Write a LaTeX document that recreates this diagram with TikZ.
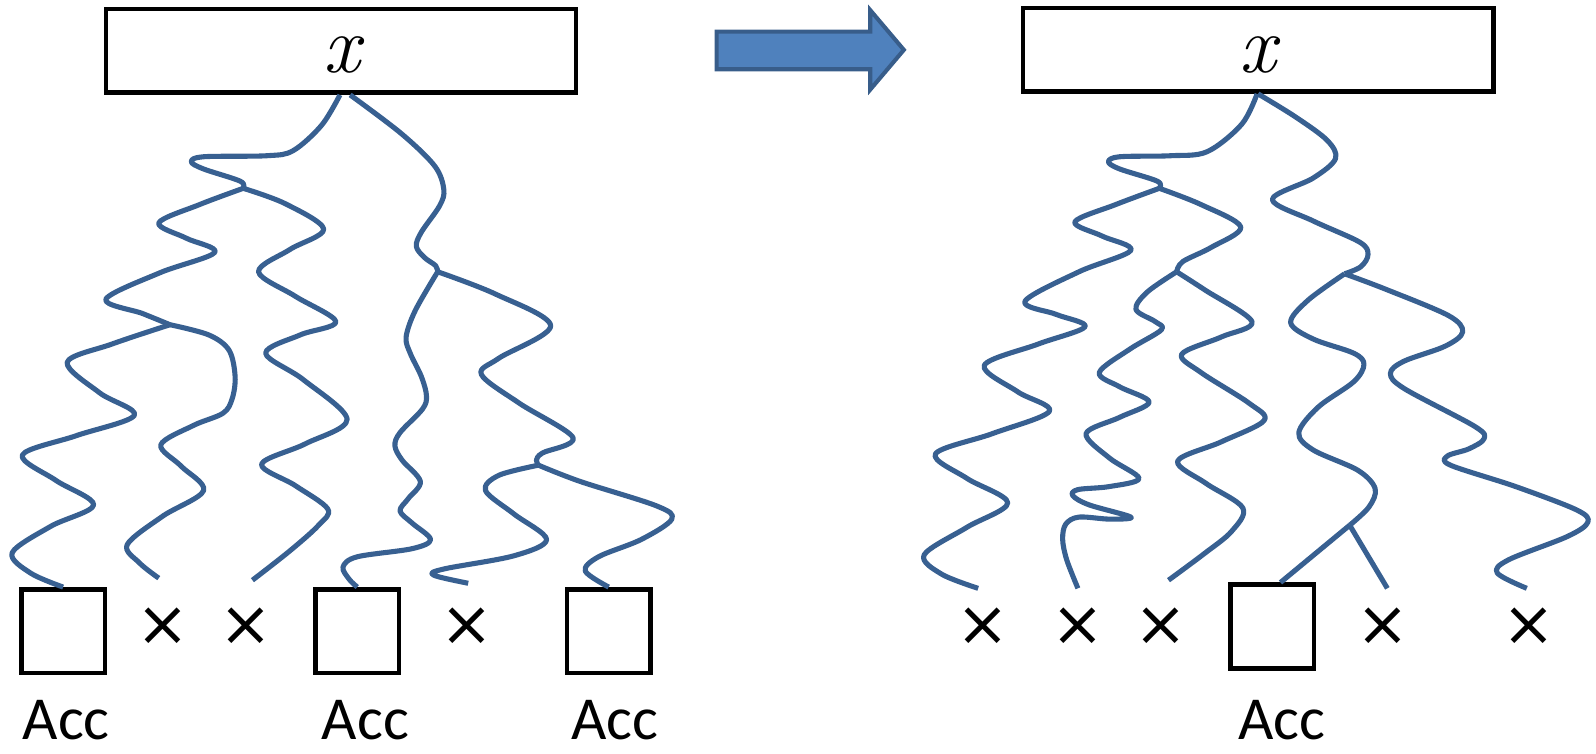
\documentclass[tikz,border=0pt]{standalone}
\usepackage{fontspec}
\setsansfont{Carlito}
\newfontfamily\symfont{DejaVu Sans}
\definecolor{wireblue}{RGB}{56,96,145}
\definecolor{arrowfill}{RGB}{79,129,189}
\definecolor{arrowedge}{RGB}{56,93,138}
\tikzset{
  wire/.style={draw=wireblue, line width=5pt, line join=round},
  inbox/.style={draw=black, line width=4.5pt, minimum width=462pt, minimum height=82pt, inner sep=0pt},
  varlabel/.style={inner sep=0pt, font=\fontsize{80}{90}\selectfont\itshape},
  accbox/.style={draw=black, line width=4.5pt, minimum width=82pt, minimum height=82pt, inner sep=0pt},
  acclabel/.style={anchor=base, inner sep=0pt, font=\sffamily\fontsize{60}{72}\selectfont},
  reject/.style={inner sep=0pt, font=\symfont\fontsize{62}{70}\selectfont},
  wave/.style={smooth, tension=0.55},
}
\begin{document}
\begin{tikzpicture}[x=1pt, y=-1pt]
\useasboundingbox (0,0) rectangle (1568,740);

% ---------- left tree ----------
\node[inbox] (xL) at (335,50) {};
\node[varlabel] (vL) at (336,54) {x};
\node[accbox] (a1) at (62,620) {};
\node[accbox] (a2) at (351,620) {};
\node[accbox] (a3) at (598,620) {};
\node[acclabel] (t1) at (65,727) {Acc};
\node[acclabel] (t2) at (359,727) {Acc};
\node[acclabel] (t3) at (604,727) {Acc};
\node[reject] (r1) at (160,616) {×};
\node[reject] (r2) at (242,616) {×};
\node[reject] (r3) at (459,616) {×};

\coordinate (lb1) at (239,185);
\coordinate (lb2) at (167,319);
\coordinate (lb3) at (430,267);
\coordinate (lb4) at (529,457);
\coordinate (le1) at (156,568);
\coordinate (le2) at (248,570);
\coordinate (le3) at (460,573);

\draw[wire] plot[wave] coordinates {([xshift=-1pt]xL.south) (316,123) (288,148) (262,153) (200,154) (188,159) (200,166) (236,178) (lb1)};
\draw[wire] plot[wave] coordinates {(lb1) (196,201) (156,219) (183,234) (211,248) (157,268) (104,294) (140,308) (lb2)};
\draw[wire] plot[wave] coordinates {(lb2) (110,338) (66,356) (98,386) (132,408) (75,428) (22,447) (55,472) (92,496) (50,517) (12,543) (30,563) (a1.north)};
\draw[wire] plot[wave] coordinates {(lb2) (205,329) (225,344) (231,370) (228,392) (219,406) (190,418) (158,437) (178,458) (200,482) (160,507) (125,535) (137,553) (le1)};
\draw[wire] plot[wave] coordinates {(lb1) (280,200) (318,225) (285,245) (254,267) (290,291) (330,316) (295,329) (261,347) (298,373) (341,412) (300,436) (257,456) (290,477) (322,500) (313,516) (285,541) (le2)};
\draw[wire] plot[wave] coordinates {([xshift=9pt]xL.south) (394,131) (427,163) (436,186) (432,202) (414,228) (409,242) (417,253) (428,261) (lb3)};
\draw[wire] plot[wave] coordinates {(lb3) (408,305) (399,331) (403,347) (414,370) (419,389) (415,402) (393,425) (388,438) (395,452) (413,473) (401,490) (393,502) (405,514) (423,530) (405,539) (351,547) (337,557) (343,569) (a2.north)};
\draw[wire] plot[wave] coordinates {(lb3) (487,289) (541,320) (490,352) (473,368) (510,396) (563,430) (533,445) (527,452) (lb4)};
\draw[wire] plot[wave] coordinates {(lb4) (490,467) (477,482) (505,505) (537,530) (505,546) (436,559) (426,565) (le3)};
\draw[wire] plot[wave] coordinates {(lb4) (570,473) (645,497) (660,510) (630,530) (588,547) (575,561) (a3.north)};

% ---------- transition arrow ----------
\draw[fill=arrowfill, draw=arrowedge, line width=4pt, line join=miter]
  (704,31) -- (855,31) -- (855,10) -- (888,49) -- (855,88) -- (855,68) -- (704,68) -- cycle;

% ---------- right tree ----------
\node[inbox] (xR) at (1236,49) {};
\node[varlabel] (vR) at (1236,54) {x};
\node[accbox] (a4) at (1250,615.5) {};
\node[acclabel] (t4) at (1259,727) {Acc};
\node[reject] (r4) at (966,616) {×};
\node[reject] (r5) at (1059,616) {×};
\node[reject] (r6) at (1141,616) {×};
\node[reject] (r7) at (1359,616) {×};
\node[reject] (r8) at (1502,616) {×};

\coordinate (rb1) at (1139,185);
\coordinate (rb2) at (1156,267);
\coordinate (rb3) at (1321,269);
\coordinate (rb4) at (1326,516);
\coordinate (re1) at (961,578);
\coordinate (re2) at (1059,578);
\coordinate (re3) at (1148,570);
\coordinate (re4) at (1363,578);
\coordinate (re5) at (1500,578);

\draw[wire] plot[wave] coordinates {([xshift=-1pt]xR.south) (1220,122) (1186,149) (1150,153) (1100,154) (1089,159) (1100,166) (1137,178) (rb1)};
\draw[wire] plot[wave] coordinates {(rb1) (1096,201) (1056,218) (1083,232) (1111,246) (1060,267) (1007,296) (1038,309) (1066,321) (1020,338) (967,359) (1000,385) (1031,404) (975,426) (919,446) (950,470) (990,494) (950,518) (908,545) (925,564) (re1)};
\draw[wire] plot[wave] coordinates {(rb1) (1180,201) (1219,223) (1190,243) (1162,257) (rb2)};
\draw[wire] plot[wave] coordinates {(rb2) (1127,287) (1116,304) (1135,316) (1141,324) (1110,343) (1080,366) (1100,380) (1129,395) (1100,410) (1067,426) (1090,450) (1119,470) (1090,478) (1059,481) (1054,487) (1070,496) (1111,508) (1090,510) (1060,508) (1047,515) (1044,530) (1048,550) (re2)};
\draw[wire] plot[wave] coordinates {(rb2) (1184,285) (1230,316) (1200,331) (1161,348) (1180,366) (1227,396) (1242,413) (1200,434) (1157,453) (1185,475) (1221,499) (1210,522) (1183,544) (re3)};
\draw[wire] plot[wave] coordinates {(xR.south) (1273,115) (1304,138) (1312,156) (1290,175) (1250,196) (1290,217) (1336,238) (1344,250) (1337,262) (rb3)};
\draw[wire] plot[wave] coordinates {(rb3) (1285,295) (1268,317) (1290,333) (1330,347) (1340,358) (1330,375) (1295,400) (1276,425) (1290,442) (1334,462) (1351,480) (1345,498) (rb4)};
\draw[wire] (rb4) -- ([xshift=8pt]a4.north);
\draw[wire] (rb4) -- (re4);
\draw[wire] plot[wave] coordinates {(rb3) (1361,284) (1423,310) (1437,326) (1420,340) (1379,355) (1366,367) (1380,382) (1449,419) (1458,431) (1443,441) (1422,448) (1425,457) (1489,478) (1549,501) (1560,513) (1540,527) (1482,550) (1471,563) (re5)};
\end{tikzpicture}
\end{document}
